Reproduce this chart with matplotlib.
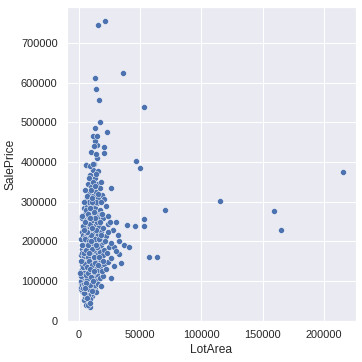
import matplotlib
matplotlib.use("Agg")
import matplotlib.pyplot as plt
import seaborn as sns
import pandas as pd

# (LotArea, SalePrice) pairs, grouped by price band
band_low = [(4500, 52000), (6200, 39300), (9500, 35300), (8000, 55000), (11000, 62500), (7200, 40000),
            (5000, 60000), (10000, 68000), (3000, 75000), (6500, 72000), (8400, 79000), (12000, 75000),
            (9600, 55000), (7700, 64000), (5500, 67000), (13200, 79000), (14400, 72000), (2200, 80000),
            (4000, 70000)]
band_100k = [(1500, 95000), (1700, 86000), (2000, 100000), (2500, 90000), (2900, 115000), (3500, 82000),
             (4000, 107000), (4400, 93000), (5000, 115000), (5300, 88000), (6000, 100000), (6400, 82000),
             (6600, 118000), (7000, 92000), (7200, 108000), (7500, 85000), (7800, 113000), (8000, 98000),
             (8300, 120000), (8500, 89000), (8800, 103000), (9000, 116000), (9200, 84000), (9500, 96000),
             (9700, 110000), (10000, 88000), (10300, 119000), (10500, 102000), (10800, 94000), (11000, 114000),
             (11400, 86000), (11700, 106000), (12000, 98000), (12500, 117000), (13000, 90000), (13500, 110000),
             (14000, 100000), (15000, 118000), (16000, 92000), (17000, 108000), (18200, 86500), (20000, 112000),
             (8700, 80000), (9400, 90000), (6800, 105000), (5800, 95000)]
band_140k = [(1800, 125000), (2300, 140000), (2600, 130000), (3200, 150000), (3600, 125000), (4000, 138000),
             (4500, 155000), (5000, 128000), (5400, 145000), (6000, 135000), (6300, 158000), (6500, 122000),
             (6800, 148000), (7000, 130000), (7200, 140000), (7400, 155000), (7600, 125000), (7800, 137000),
             (8000, 145000), (8200, 130000), (8400, 152000), (8600, 123000), (8800, 140000), (9000, 133000),
             (9200, 158000), (9400, 127000), (9600, 145000), (9800, 138000), (10000, 150000), (10200, 125000),
             (10400, 142000), (10600, 135000), (10800, 157000), (11000, 128000), (11300, 147000), (11600, 139000),
             (11900, 154000), (12200, 124000), (12500, 143000), (12800, 132000), (13100, 150000), (13500, 127000),
             (14000, 140000), (14500, 155000), (15000, 133000), (15600, 146000), (16200, 128000), (17000, 138000),
             (18000, 152000), (19000, 126000), (20500, 142000), (22000, 131000), (24000, 148000), (26600, 158000),
             (29000, 138000), (34700, 145500), (26100, 109000), (18200, 86500)]
band_180k = [(1900, 165000), (2400, 180000), (3000, 172000), (3500, 195000), (4000, 162000), (4800, 185000),
             (5200, 175000), (5800, 198000), (6200, 168000), (6700, 188000), (7000, 178000), (7300, 163000),
             (7600, 192000), (7900, 172000), (8200, 183000), (8500, 166000), (8800, 196000), (9100, 175000),
             (9400, 186000), (9700, 168000), (10000, 179000), (10300, 193000), (10600, 162000), (10900, 185000),
             (11200, 172000), (11500, 198000), (11800, 166000), (12100, 180000), (12500, 190000), (12900, 170000),
             (13300, 184000), (13800, 163000), (14300, 176000), (14900, 195000), (15500, 168000), (16200, 182000),
             (17000, 174000), (18000, 190000), (19500, 165000), (21000, 178000), (23000, 170000), (25000, 186000),
             (33100, 168000), (37200, 190800), (40800, 185800), (29000, 185800), (30500, 176000), (26000, 195000),
             (20000, 198000), (26600, 158000)]
band_225k = [(2000, 205000), (2700, 225000), (3300, 215000), (4200, 240000), (5000, 210000), (5600, 230000),
             (6200, 248000), (6900, 218000), (7400, 236000), (7800, 205000), (8200, 226000), (8600, 244000),
             (9000, 212000), (9400, 233000), (9800, 220000), (10200, 246000), (10600, 208000), (11000, 228000),
             (11400, 238000), (11800, 215000), (12200, 202000), (12700, 232000), (13200, 222000), (13800, 245000),
             (14400, 210000), (15000, 230000), (15800, 218000), (16500, 240000), (17500, 206000), (18500, 225000),
             (20000, 235000), (22000, 214000), (24000, 244000), (33100, 201000), (30700, 248800), (32300, 216000),
             (39700, 241000), (46200, 238700), (53107, 240000), (28000, 230000)]
band_275k = [(3000, 260000), (4000, 285000), (5000, 270000), (6000, 255000), (7000, 290000), (7600, 265000),
             (8200, 278000), (8800, 258000), (9400, 295000), (10000, 270000), (10500, 282000), (11000, 262000),
             (11600, 290000), (12200, 272000), (12800, 255000), (13500, 285000), (14200, 268000), (15000, 298000),
             (16000, 262000), (17000, 280000), (18500, 270000), (20000, 258000), (22000, 290000), (24000, 265000),
             (53227, 256000), (70761, 280000)]
band_350k = [(5100, 329000), (6500, 310000), (7500, 345000), (8500, 320000), (9200, 368000), (9800, 305000),
             (10400, 338000), (11000, 355000), (11500, 315000), (12000, 380000), (12600, 330000), (13200, 302000),
             (13600, 360000), (14200, 325000), (14800, 345000), (15500, 378000), (16000, 310000), (17000, 335000),
             (18000, 350000), (19000, 318000), (26600, 334500), (21000, 306000), (12700, 395000), (15200, 410000),
             (6200, 392500), (10300, 425000), (5700, 393000), (9500, 390000), (11500, 395000), (8000, 360000)]
band_high = [(20900, 422700), (20900, 438600), (15200, 443000), (13600, 453000), (11900, 465600),
             (14900, 465600), (23300, 475600), (13600, 485700), (17600, 501000), (16600, 556000),
             (14400, 584000), (13600, 611800), (36400, 625000), (15623, 745000), (21535, 755000),
             (53504, 538000), (46589, 402861), (50271, 385000), (12500, 440000), (14000, 420000)]
band_far = [(215245, 375000), (115149, 302000), (159000, 277000), (164660, 228950),
            (63887, 160000), (57200, 160000)]
# extra points filling the dense core
band_core = [(2100, 112000), (2800, 150000), (3400, 135000), (3900, 192000), (4300, 121000), (4700, 170000),
             (5100, 142000), (5500, 205000), (5900, 115000), (6300, 178000), (6700, 135000), (7100, 225000),
             (7500, 160000), (7900, 120000), (8300, 200000), (8700, 150000), (9100, 245000), (9500, 172000),
             (9900, 110000), (10300, 215000), (10700, 180000), (11100, 140000), (11500, 255000), (11900, 195000),
             (12300, 160000), (12700, 275000), (13100, 205000), (13500, 145000), (13900, 230000), (14300, 300000),
             (14700, 185000), (15100, 250000), (15500, 140000), (15900, 320000), (16300, 205000), (16800, 160000),
             (17300, 250000), (17800, 300000), (18300, 215000), (19000, 270000), (6000, 280000), (7000, 315000),
             (8000, 300000), (9000, 285000), (10000, 330000), (11000, 300000), (12000, 350000), (13000, 340000),
             (14000, 370000), (4500, 300000), (3200, 240000), (2600, 190000), (1600, 150000), (1300, 120000),
             (2300, 265000), (5300, 250000), (6400, 225000), (7300, 190000), (8100, 170000), (8900, 130000),
             (9700, 200000), (10500, 235000), (11300, 100000), (12100, 125000), (12900, 260000), (13700, 190000),
             (6900, 58000), (9000, 45000), (5200, 82000), (10500, 75000), (19800, 150000), (21500, 200000),
             (23500, 225000), (25500, 250000), (4100, 230000), (7400, 270000), (9300, 260000), (10900, 310000)]

pairs = (band_low + band_100k + band_140k + band_180k + band_225k + band_275k + band_350k
         + band_high + band_far + band_core)
lot_area = [p[0] for p in pairs]
sale_price = [p[1] for p in pairs]
df = pd.DataFrame({"LotArea": lot_area, "SalePrice": sale_price})

sns.set_theme()
plt.rcParams['font.family'] = ['Liberation Sans', 'DejaVu Sans']

fig = plt.figure(figsize=(362 / 72, 362 / 72), dpi=72)
ax = fig.add_axes([0.1856, 0.1133, 0.797, 0.867])
sns.scatterplot(data=df, x="LotArea", y="SalePrice", ax=ax)
ax.set_xticks([0, 50000, 100000, 150000, 200000])
ax.set_yticks(range(0, 700001, 100000))

fig.savefig("out.png", dpi=72)
